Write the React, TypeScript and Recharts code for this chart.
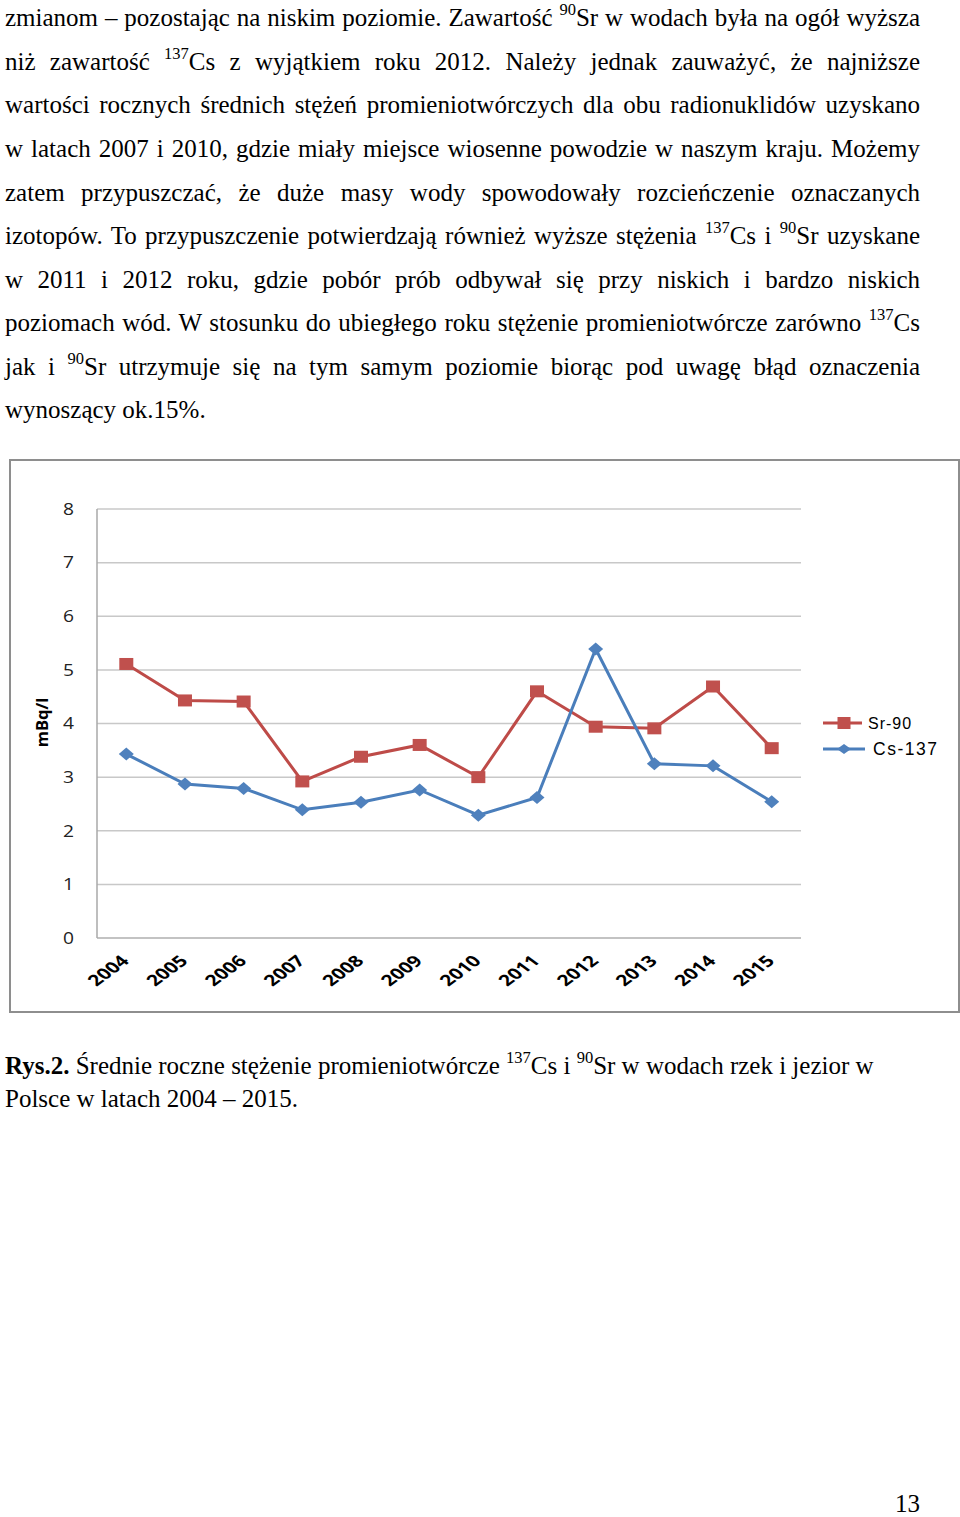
import React from 'react';
import { ComposedChart, Line, XAxis, YAxis, CartesianGrid, Legend } from 'recharts';

const years = ['2004', '2005', '2006', '2007', '2008', '2009', '2010', '2011', '2012', '2013', '2014', '2015'];
const sr90 = [5.11, 4.43, 4.41, 2.92, 3.38, 3.6, 3.0, 4.6, 3.94, 3.91, 4.69, 3.54];
const cs137 = [3.43, 2.87, 2.79, 2.39, 2.53, 2.76, 2.29, 2.62, 5.39, 3.25, 3.21, 2.54];
const yTicks = [0, 1, 2, 3, 4, 5, 6, 7, 8];
const seriesNames = ['Sr-90', 'Cs-137'];

const data = years.map((y, i) => ({ year: y, sr: sr90[i], cs: cs137[i] }));

const RED = '#C0504D';
const RED_LINE = '#BE4B48';
const BLUE = '#4F81BD';
const BLUE_LINE = '#4A7EBB';

const SquareDot = (p: any) => {
  const { cx, cy, index } = p;
  if (cx == null || cy == null) return <g key={`s${index}`} />;
  return <rect key={`s${index}`} x={cx - 7} y={cy - 6} width={14} height={12} fill={RED} />;
};

const DiamondDot = (p: any) => {
  const { cx, cy, index } = p;
  if (cx == null || cy == null) return <g key={`d${index}`} />;
  return (
    <polygon
      key={`d${index}`}
      points={`${cx},${cy - 6.5} ${cx + 7.5},${cy} ${cx},${cy + 6.5} ${cx - 7.5},${cy}`}
      fill={BLUE}
    />
  );
};

const XTick = (p: any) => {
  const { x, y, payload } = p;
  return (
    <g transform={`translate(${x + 4},${y}) scale(1.35,1)`}>
      <text
        transform="rotate(-45)"
        textAnchor="end"
        fontFamily="'Open Sans', sans-serif"
        fontWeight={700}
        fontSize={15.5}
        fill="#000"
      >
        {payload.value}
      </text>
    </g>
  );
};

const YTick = (p: any) => {
  const { x, y, payload } = p;
  return (
    <g transform={`translate(${x + 1},${y}) scale(1.2,1)`}>
      <text textAnchor="end" dy="0.36em" fontFamily="'Open Sans', sans-serif" fontSize={16} fill="#222">
        {payload.value}
      </text>
    </g>
  );
};

const YLabel = (p: any) => {
  const vb = p.viewBox || { x: 0, y: 0, width: 0, height: 0 };
  const cx = vb.x + 32;
  const cy = vb.y + vb.height / 2 - 1;
  return (
    <text
      x={cx}
      y={cy}
      transform={`rotate(-90, ${cx}, ${cy})`}
      textAnchor="middle"
      dy="0.36em"
      fontFamily="'Open Sans', sans-serif"
      fontWeight={700}
      fontSize={16.5}
      fill="#000"
    >
      mBq/l
    </text>
  );
};

const LegendContent = () => (
  <svg width={140} height={52} style={{ display: 'block', overflow: 'visible' }}>
    <line x1={0} y1={12} x2={39} y2={12} stroke={RED_LINE} strokeWidth={3} />
    <rect x={21 - 6.5} y={12 - 6} width={13} height={12} fill={RED} />
    <text x={45} y={12} dy="0.36em" fontFamily="'Liberation Sans', Arial, sans-serif" fontSize={16} letterSpacing={1} fill="#000">
      {seriesNames[0]}
    </text>
    <line x1={0} y1={38} x2={42} y2={38} stroke={BLUE_LINE} strokeWidth={3} />
    <polygon points={`21,${38 - 5} 28,38 21,${38 + 5} 14,38`} fill={BLUE} />
    <text x={50} y={38} dy="0.36em" fontFamily="'Liberation Sans', Arial, sans-serif" fontSize={17.5} letterSpacing={1.5} fill="#000">
      {seriesNames[1]}
    </text>
  </svg>
);

const serif = "'Liberation Serif', 'Times New Roman', serif";
const FS = 25;

const Sup = ({ children }: { children: React.ReactNode }) => (
  <span style={{ fontSize: 16.5, position: 'relative', top: -11, lineHeight: '1' }}>{children}</span>
);

const lineBase = [27, 71, 114, 158, 202, 245, 289, 332, 376, 419];

const bodyLines: React.ReactNode[] = [
  <>zmianom – pozostając na niskim poziomie. Zawartość <Sup>90</Sup>Sr w wodach była na ogół wyższa</>,
  <>niż zawartość <Sup>137</Sup>Cs z wyjątkiem roku 2012. Należy jednak zauważyć, że najniższe</>,
  <>wartości rocznych średnich stężeń promieniotwórczych dla obu radionuklidów uzyskano</>,
  <>w latach 2007 i 2010, gdzie miały miejsce wiosenne powodzie w naszym kraju. Możemy</>,
  <>zatem przypuszczać, że duże masy wody spowodowały rozcieńczenie oznaczanych</>,
  <>izotopów.  To przypuszczenie potwierdzają również wyższe stężenia <Sup>137</Sup>Cs i <Sup>90</Sup>Sr uzyskane</>,
  <>w 2011 i 2012 roku, gdzie  pobór prób odbywał się przy niskich i bardzo niskich</>,
  <>poziomach wód. W stosunku do ubiegłego roku stężenie promieniotwórcze zarówno <Sup>137</Sup>Cs</>,
  <>jak i <Sup>90</Sup>Sr utrzymuje się na tym samym poziomie biorąc pod uwagę błąd oznaczenia</>,
  <>wynoszący ok.15%.</>,
];

const lineStyle = (base: number): React.CSSProperties => ({
  position: 'absolute',
  left: 5,
  top: base - 24,
  height: 30,
  lineHeight: '30px',
  fontSize: FS,
  whiteSpace: 'nowrap',
});

export default function App() {
  return (
    <div
      style={{
        position: 'absolute',
        left: 0,
        top: 0,
        width: 960,
        height: 1517,
        background: '#fff',
        overflow: 'hidden',
        fontFamily: serif,
        color: '#000',
      }}
    >
      {bodyLines.map((ln, i) => {
        const last = i === bodyLines.length - 1;
        return (
          <div
            key={i}
            style={{
              ...lineStyle(lineBase[i]),
              width: 915,
              textAlign: last ? 'left' : 'justify',
              textAlignLast: last ? 'left' : 'justify',
            }}
          >
            {ln}
          </div>
        );
      })}

      <div
        style={{
          position: 'absolute',
          left: 9,
          top: 459,
          width: 951,
          height: 554,
          border: '2px solid #8E8E8E',
          boxSizing: 'border-box',
        }}
      />

      <div style={{ position: 'absolute', left: 10, top: 461 }}>
        <ComposedChart
          width={948}
          height={550}
          data={data}
          margin={{ top: 48, right: 157, bottom: 13, left: 0 }}
        >
          <CartesianGrid vertical={false} stroke="#C8C8C8" strokeWidth={1.5} />
          <XAxis
            dataKey="year"
            height={60}
            padding={{ left: 29.3, right: 29.3 }}
            tickLine={false}
            tickSize={0}
            tickMargin={24}
            axisLine={{ stroke: '#BDBDBD', strokeWidth: 1.5 }}
            tick={<XTick />}
            interval={0}
          />
          <YAxis
            width={87}
            domain={[0, 8]}
            ticks={yTicks}
            tickLine={false}
            tickSize={0}
            tickMargin={24}
            axisLine={{ stroke: '#A8A8A8', strokeWidth: 1.5 }}
            tick={<YTick />}
            label={<YLabel />}
          />
          <Legend
            layout="horizontal"
            verticalAlign="middle"
            align="center"
            content={<LegendContent />}
            wrapperStyle={{ left: 813, top: 250, width: 140, height: 52 }}
          />
          <Line
            dataKey="sr"
            name={seriesNames[0]}
            stroke={RED_LINE}
            strokeWidth={3}
            dot={SquareDot}
            activeDot={false}
            isAnimationActive={false}
          />
          <Line
            dataKey="cs"
            name={seriesNames[1]}
            stroke={BLUE_LINE}
            strokeWidth={3}
            dot={DiamondDot}
            activeDot={false}
            isAnimationActive={false}
          />
        </ComposedChart>
      </div>

      <div style={lineStyle(1075)}>
        <b>Rys.2.</b> Średnie roczne stężenie promieniotwórcze <Sup>137</Sup>Cs i <Sup>90</Sup>Sr w wodach rzek i jezior w
      </div>
      <div style={lineStyle(1108)}>Polsce w latach 2004 – 2015.</div>

      <div
        style={{
          position: 'absolute',
          right: 40,
          top: 1493,
          height: 22,
          lineHeight: '22px',
          fontSize: FS,
          whiteSpace: 'nowrap',
        }}
      >
        13
      </div>
    </div>
  );
}
